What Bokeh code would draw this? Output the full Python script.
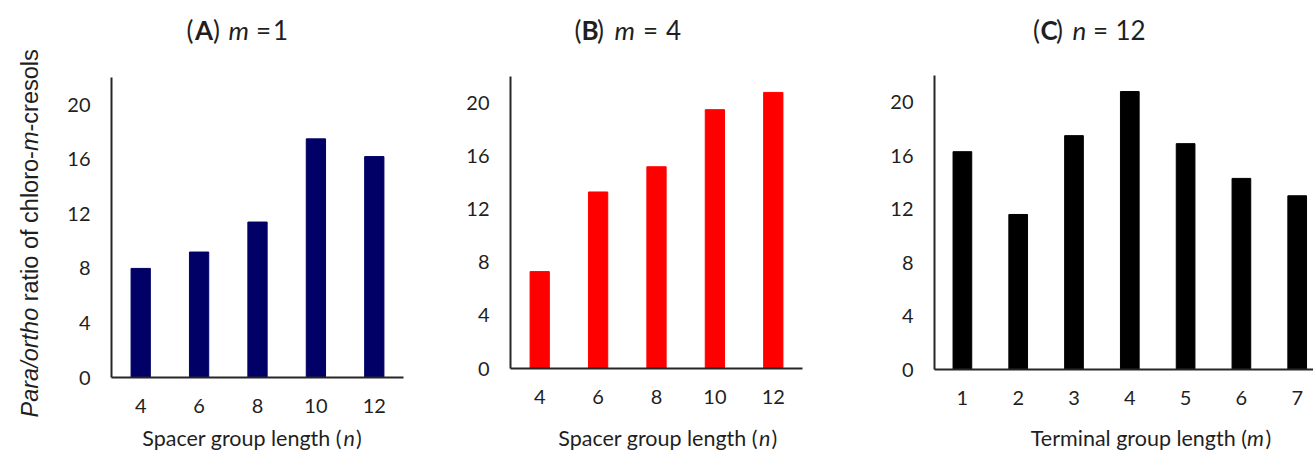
import math
from bokeh.plotting import figure
from bokeh.models import FixedTicker, Range1d
from bokeh.layouts import row, column
from bokeh.embed import file_html
from bokeh.resources import INLINE
from bokeh.core.properties import value

# ---------------- data ----------------
spacer_n = [4, 6, 8, 10, 12]
ratio_A = [8.0, 9.2, 11.4, 17.5, 16.2]          # (A) m = 1
ratio_B = [7.3, 13.3, 15.2, 19.5, 20.8]         # (B) m = 4
terminal_m = [1, 2, 3, 4, 5, 6, 7]
ratio_C = [16.3, 11.6, 17.5, 20.8, 16.9, 14.3, 13.0]  # (C) n = 12
y_ticks = [0, 4, 8, 12, 16, 20]

TXT = "#1f1f1f"
AX = "#262626"
H = 450
TITLE_H = 60      # height of the title strip
XT_TOP = 422      # top of the x-title strip
SHIFT = 0.35      # baseline compensation (em)


def make_plot(col, top, frame_h, xr, xs, ys, bar_w, color, xticks):
    x0, w, left, frame_w = col
    p = figure(frame_width=frame_w, frame_height=frame_h,
               min_border_left=left - x0, min_border_right=x0 + w - left - frame_w,
               min_border_top=top - TITLE_H, min_border_bottom=XT_TOP - top - frame_h,
               x_range=Range1d(*xr), y_range=Range1d(0, 22),
               output_backend="svg", toolbar_location=None)
    p.vbar(x=xs, top=ys, width=bar_w, bottom=0, fill_color=color, line_color=color)
    p.outline_line_color = None
    p.xgrid.visible = False
    p.ygrid.visible = False
    for ax in (p.xaxis[0], p.yaxis[0]):
        ax.axis_line_color = AX
        ax.axis_line_width = 2
        ax.major_tick_out = 0
        ax.major_tick_in = 0
        ax.minor_tick_out = 0
        ax.minor_tick_in = 0
        ax.major_label_text_font = "Lato"
        ax.major_label_text_font_size = "20px"
        ax.major_label_text_color = TXT
        ax.major_label_standoff = 21
    p.xaxis.ticker = FixedTicker(ticks=xticks)
    p.yaxis.ticker = FixedTicker(ticks=y_ticks)
    return p


def text_strip(col, y0, h):
    """A text-only figure with the same horizontal borders as the panel below it,
    whose data coordinates equal canvas pixels."""
    x0, w, left, frame_w = col
    f = figure(frame_width=frame_w, frame_height=h,
               min_border_left=left - x0, min_border_right=x0 + w - left - frame_w,
               min_border_top=0, min_border_bottom=0,
               x_range=Range1d(left, left + frame_w), y_range=Range1d(0, h),
               x_axis_location=None, y_axis_location=None,
               output_backend="svg", toolbar_location=None)
    f.outline_line_color = None
    f.xgrid.visible = False
    f.ygrid.visible = False

    def put(cx, cy, text, font="Lato", size=26, style="normal",
            align="left", angle=0.0):
        # cy is the wanted baseline (canvas px); compensate the renderer's offset
        if angle == 0.0:
            cy = cy - SHIFT * size
        else:
            cx = cx - SHIFT * size
        f.text(x=[cx], y=[y0 + h - cy], text=[text],
               text_font=value(font), text_font_size=value(f"{size}px"),
               text_font_style=value(style), text_align=value(align),
               text_baseline=value("alphabetic"), text_color=TXT, angle=angle)
    return f, put


# column geometry (canvas px): x0, width, frame-left, frame-width
YT_W = 45
colA = (YT_W, 440 - YT_W, 111, 292)
colB = (440, 430, 510, 292)
colC = (870, 443, 934, 379)

pA = make_plot(colA, 77, 300, (3, 13), spacer_n, ratio_A, 0.66, "#000066", spacer_n)
pB = make_plot(colB, 76, 292, (3, 13), spacer_n, ratio_B, 0.66, "#ff0000", spacer_n)
pC = make_plot(colC, 75, 294, (0.5, 0.5 + 379 / 55.8), terminal_m, ratio_C, 0.335,
               "#000000", terminal_m)

# ---------- titles (mixed styles) ----------
TB = 39
tA, putTA = text_strip(colA, 0, TITLE_H)
tB, putTB = text_strip(colB, 0, TITLE_H)
tC, putTC = text_strip(colC, 0, TITLE_H)
for put, pieces in [
    (putTA, [(186, "(", "normal"), (194.5, "A", "bold"), (212.5, ")", "normal"),
             (228, "m", "italic"), (255.5, "=", "normal"), (272.5, "1", "normal")]),
    (putTB, [(574, "(", "normal"), (581, "B", "bold"), (596.5, ")", "normal"),
             (614, "m", "italic"), (642.5, "=", "normal"), (665.5, "4", "normal")]),
    (putTC, [(1032.5, "(", "normal"), (1040, "C", "bold"), (1055.5, ")", "normal"),
             (1072, "n", "italic"), (1092.5, "=", "normal"), (1115, "12", "normal")]),
]:
    for cx, t, st in pieces:
        put(cx, TB, t, size=26, style=st)

# ---------- x-axis titles ----------
XB = 445
XS = 21.5
xA, putXA = text_strip(colA, XT_TOP, H - XT_TOP)
xB, putXB = text_strip(colB, XT_TOP, H - XT_TOP)
xC, putXC = text_strip(colC, XT_TOP, H - XT_TOP)
putXA(341.5, XB, "Spacer group length (", size=XS, align="right")
putXA(343, XB, "n", size=XS, style="italic")
putXA(355.5, XB, ")", size=XS)
putXB(757.5, XB, "Spacer group length (", size=XS, align="right")
putXB(758.5, XB, "n", size=XS, style="italic")
putXB(771, XB, ")", size=XS)
putXC(1246.5, XB, "Terminal group length (", size=XS, align="right")
putXC(1246.5, XB, "m", size=XS, style="italic")
putXC(1265, XB, ")", size=XS)

# ---------- y-axis title (rotated, mixed styles) ----------
yT = figure(width=YT_W, height=H, x_range=Range1d(0, YT_W), y_range=Range1d(0, H),
            x_axis_location=None, y_axis_location=None, min_border=0,
            output_backend="svg", toolbar_location=None)
yT.outline_line_color = None
yT.xgrid.visible = False
yT.ygrid.visible = False
YS = 23.5
ybase_x = 38 - SHIFT * YS
ystart = 417
for off, t, st in [(0, "Para/ortho", "italic"), (116.2, "ratio of chloro-", "normal"),
                   (266.4, "m", "italic"), (286.0, "-cresols", "normal")]:
    yT.text(x=[ybase_x], y=[H - (ystart - off)], text=[t],
            text_font=value("Liberation Sans"), text_font_size=value(f"{YS}px"),
            text_font_style=value(st), text_align=value("left"),
            text_baseline=value("alphabetic"), text_color=TXT, angle=math.pi / 2)

layout = row(yT,
             column(tA, pA, xA),
             column(tB, pB, xB),
             column(tC, pC, xC))
open("out.html", "w").write(file_html(layout, INLINE))
